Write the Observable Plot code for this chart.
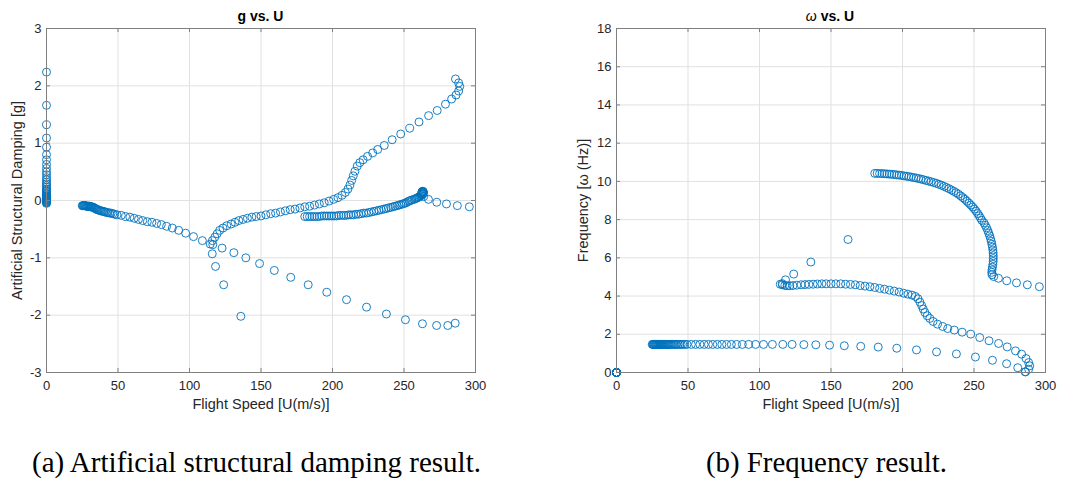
<!DOCTYPE html>
<html><head><meta charset="utf-8">
<script src="https://cdn.jsdelivr.net/npm/d3@7"></script>
<script src="https://cdn.jsdelivr.net/npm/@observablehq/plot@0.6"></script>
<style>
html,body{margin:0;padding:0;background:#fff}
body{width:1066px;height:481px;position:relative;overflow:hidden;font-family:"Liberation Sans",Arial,Helvetica,sans-serif}
.panel{position:absolute;top:0}
.title{position:absolute;top:9px;width:200px;text-align:center;font-size:14px;line-height:14px;font-weight:bold;color:#000}
#caps{position:absolute;left:0;top:0}
#caps text{font-family:"Liberation Serif","Times New Roman",Times,serif;font-size:30px;fill:#000}
</style></head><body>
<div class="panel" id="p1" style="left:0"></div>
<div class="panel" id="p2" style="left:533px"></div>
<div class="title" style="left:160.5px">g vs. U</div>
<div class="title" style="left:730px"><span style="font-weight:normal;font-style:italic">ω</span> vs. U</div>
<svg id="caps" width="1066" height="481" style="pointer-events:none">
  <text x="32" y="472" textLength="449" lengthAdjust="spacingAndGlyphs">(a) Artificial structural damping result.</text>
  <text x="706" y="472" textLength="241" lengthAdjust="spacingAndGlyphs">(b) Frequency result.</text>
</svg>
<script>
// ---- tick values ----
const xTicks = [0, 50, 100, 150, 200, 250, 300];
const gTicks = [-3, -2, -1, 0, 1, 2, 3];
const wTicks = [0, 2, 4, 6, 8, 10, 12, 14, 16, 18];

// ---- mode at U = 0 ----
const mode0U = [0,0,0,0,0,0,0,0,0,0, 0,0,0,0,0,0,0,0,0,0, 0,0,0,0,0,0,0,0,0,0, 0,0,0,0,0,0,0];
const mode0G = [2.24,1.66,1.32,1.09,0.93,0.80,0.71,0.63,0.56,0.50, 0.45,0.40,0.36,0.32,0.29,0.26,0.23,0.20,0.18,0.16, 0.14,0.12,0.10,0.08,0.07,0.06,0.05,0.04,0.03,0.02, 0.01,0.00,-0.01,-0.02,-0.03,-0.04,-0.05];
const mode0W = [0,0,0,0,0,0,0,0,0,0, 0,0,0,0,0,0,0,0,0,0, 0,0,0,0,0,0,0,0,0,0, 0,0,0,0,0,0,0];

// ---- mode 1 (~1.5 Hz) ----
const mode1U = [25.0,25.4,25.8,26.2,26.6,27.0,27.4,27.8,28.2,28.6, 29.0,29.4,29.8,30.3,30.8,31.3,31.8,32.3,32.9,33.5, 34.1,34.7,35.4,36.1,36.8,37.6,38.4,39.2,40.1,41.0, 42.0,43.0,44.1,45.2,46.4,47.7,49.3,52.3,55.3,58.3, 61.3,64.3,67.3,70.5,73.7,77.0,80.3,84.0,88.0,92.4, 97.3,102.8,109.0,116.3,122.8,131.0,139.4,149.0,159.3,170.8, 183.0,196.0,209.8,223.8,237.7,251.0,262.9,272.8,280.6,285.8];
const mode1G = [-0.09,-0.09,-0.09,-0.09,-0.09,-0.09,-0.09,-0.10,-0.10,-0.10, -0.10,-0.10,-0.10,-0.10,-0.11,-0.11,-0.11,-0.12,-0.12,-0.13, -0.14,-0.15,-0.16,-0.16,-0.17,-0.18,-0.18,-0.19,-0.19,-0.20, -0.21,-0.21,-0.22,-0.22,-0.23,-0.24,-0.25,-0.26,-0.28,-0.29, -0.31,-0.33,-0.35,-0.37,-0.38,-0.40,-0.42,-0.45,-0.48,-0.52, -0.57,-0.63,-0.70,-0.77,-0.83,-0.91,-1.00,-1.10,-1.22,-1.34, -1.47,-1.60,-1.73,-1.86,-1.98,-2.08,-2.15,-2.18,-2.18,-2.14];
const mode1W = [1.47,1.47,1.47,1.47,1.47,1.47,1.47,1.47,1.47,1.47, 1.47,1.47,1.47,1.47,1.47,1.47,1.47,1.47,1.47,1.47, 1.47,1.47,1.47,1.47,1.47,1.47,1.47,1.47,1.47,1.47, 1.47,1.47,1.47,1.47,1.47,1.47,1.47,1.47,1.47,1.47, 1.47,1.47,1.47,1.47,1.47,1.47,1.47,1.47,1.47,1.47, 1.47,1.47,1.47,1.47,1.47,1.46,1.45,1.43,1.40,1.37, 1.33,1.27,1.18,1.08,0.97,0.81,0.64,0.46,0.25,0.04];

// ---- mode 2 (~4.6 Hz) ----
const mode2U = [114.5,116.0,117.7,119.3,121.1,123.4,126.1,129.1,131.8,134.5, 137.5,140.5,143.6,146.6,150.0,153.4,156.8,160.2,163.6,167.0, 170.4,173.8,177.2,180.6,184.0,187.4,190.8,194.2,197.6,200.8, 203.8,206.6,209.0,210.8,212.2,213.4,214.5,215.7,217.3,219.1, 221.4,224.5,228.1,231.6,236.2,241.7,247.7,254.0,260.5,267.2, 273.2,279.0,283.3,286.4,288.2,289.0,288.2,286.0];
const mode2G = [-0.76,-0.70,-0.64,-0.58,-0.52,-0.48,-0.44,-0.41,-0.38,-0.35, -0.33,-0.31,-0.29,-0.28,-0.27,-0.25,-0.23,-0.22,-0.20,-0.18, -0.16,-0.15,-0.13,-0.11,-0.10,-0.08,-0.06,-0.04,-0.01,0.02, 0.05,0.09,0.14,0.20,0.27,0.35,0.43,0.51,0.60,0.66, 0.71,0.77,0.83,0.89,0.96,1.06,1.16,1.26,1.37,1.48, 1.57,1.68,1.77,1.84,1.91,1.99,2.05,2.12];
const mode2W = [4.62,4.59,4.56,4.54,4.54,4.55,4.57,4.59,4.60,4.61, 4.62,4.63,4.64,4.64,4.64,4.64,4.64,4.62,4.61,4.59, 4.55,4.52,4.49,4.45,4.40,4.36,4.31,4.26,4.21,4.15, 4.10,4.05,3.98,3.86,3.68,3.50,3.32,3.14,2.97,2.83, 2.67,2.53,2.41,2.30,2.22,2.11,2.01,1.83,1.66,1.52, 1.34,1.13,0.96,0.73,0.52,0.35,0.17,0.03];

// ---- mode 3 (short, strongly damped branch) ----
const mode3U = [115.9,118.2,123.9,135.9,161.9];
const mode3G = [-0.93,-1.15,-1.47,-2.02,-3.50];
const mode3W = [4.65,4.85,5.15,5.78,6.96];

// ---- mode 4 (~10.4 Hz) ----
const mode4U = [180.6,182.3,184.0,185.7,187.4,189.1,190.8,192.5,194.2,195.9, 197.6,199.3,201.0,202.7,204.4,206.1,207.8,209.5,211.2,212.9, 214.6,216.4,218.2,220.0,221.8,223.6,225.4,227.2,229.0,230.8, 232.5,234.2,235.9,237.5,239.1,240.7,242.2,243.7,245.1,246.5, 247.8,249.1,250.3,251.5,252.6,253.6,254.6,255.5,257.0,257.9, 258.8,259.6,260.3,261.0,261.6,262.1,262.5,262.9,263.2,263.4, 263.5,263.5,263.4,263.2,262.9,262.6,262.4,262.6,263.8,267.1, 272.9,279.7,287.3,295.7];
const mode4G = [-0.28,-0.28,-0.28,-0.28,-0.28,-0.28,-0.28,-0.27,-0.27,-0.27, -0.27,-0.27,-0.27,-0.27,-0.26,-0.26,-0.26,-0.26,-0.25,-0.25, -0.25,-0.24,-0.24,-0.23,-0.22,-0.22,-0.21,-0.20,-0.19,-0.18, -0.17,-0.16,-0.15,-0.14,-0.13,-0.12,-0.11,-0.10,-0.09,-0.08, -0.07,-0.06,-0.05,-0.04,-0.02,-0.01,0.00,0.01,0.02,0.03, 0.04,0.05,0.06,0.07,0.08,0.09,0.10,0.11,0.12,0.13, 0.14,0.15,0.15,0.16,0.16,0.15,0.14,0.12,0.07,0.02, -0.03,-0.06,-0.09,-0.11];
const mode4W = [10.42,10.42,10.41,10.41,10.40,10.39,10.38,10.37,10.36,10.34, 10.33,10.31,10.29,10.27,10.25,10.23,10.20,10.18,10.15,10.12, 10.09,10.05,10.02,9.98,9.94,9.90,9.85,9.80,9.74,9.68, 9.62,9.55,9.48,9.41,9.33,9.24,9.15,9.06,8.96,8.86, 8.76,8.66,8.55,8.44,8.32,8.20,8.08,7.96,7.83,7.70, 7.57,7.43,7.29,7.15,7.00,6.86,6.71,6.56,6.41,6.26, 6.11,5.96,5.81,5.66,5.51,5.37,5.24,5.12,5.02,4.93, 4.80,4.69,4.59,4.49];

function zip(U, G, W) { return U.map((u, i) => ({U: u, g: G[i], w: W[i]})); }
const rows = [
  ...zip(mode0U, mode0G, mode0W),
  ...zip(mode1U, mode1G, mode1W),
  ...zip(mode2U, mode2G, mode2W),
  ...zip(mode3U, mode3G, mode3W),
  ...zip(mode4U, mode4G, mode4W)
];

const FONT = '"Liberation Sans", Arial, Helvetica, sans-serif';
const AX = "#808080", GRID = "#e1e1e1", TXT = "#262626", BLUE = "#0072BD";

function panel(yKey, yDomain, yTicks, ml, mr, yLabel, yLabelDx) {
  const W = 533, H = 420, mt = 28, mb = 48;
  const fh = H - mt - mb, fw = W - ml - mr;
  const visible = rows.filter(d => d[yKey] >= yDomain[0] && d[yKey] <= yDomain[1]);
  return Plot.plot({
    width: W, height: H, marginTop: mt, marginBottom: mb, marginLeft: ml, marginRight: mr,
    style: {fontFamily: FONT, fontSize: "13px", color: TXT, background: "#fff", overflow: "visible"},
    x: {domain: [0, 300]},
    y: {domain: yDomain},
    marks: [
      Plot.gridX(xTicks, {stroke: GRID, strokeOpacity: 1, strokeWidth: 1}),
      Plot.gridY(yTicks, {stroke: GRID, strokeOpacity: 1, strokeWidth: 1}),
      Plot.dot(visible, {x: "U", y: yKey, r: 4, stroke: BLUE, strokeWidth: 0.9, fill: "none"}),
      Plot.frame({stroke: AX, strokeWidth: 1}),
      Plot.ruleX(xTicks, {stroke: AX, insetTop: fh - 4}),
      Plot.ruleX(xTicks, {stroke: AX, insetBottom: fh - 4}),
      Plot.ruleY(yTicks, {stroke: AX, insetRight: fw - 4}),
      Plot.ruleY(yTicks, {stroke: AX, insetLeft: fw - 4}),
      Plot.axisX(xTicks, {tickSize: 0, tickPadding: 8, tickFormat: d => String(d), fontSize: 13, fill: TXT, label: null}),
      Plot.axisY(yTicks, {tickSize: 0, tickPadding: 5, tickFormat: d => String(d), fontSize: 13, fill: TXT, label: null}),
      Plot.text(["Flight Speed [U(m/s)]"], {text: d => d, frameAnchor: "bottom", dy: 36, fontSize: 14.5, fill: TXT}),
      Plot.text([yLabel], {text: d => d, frameAnchor: "left", textAnchor: "middle", rotate: -90, dx: yLabelDx, fontSize: 14.5, fill: TXT})
    ]
  });
}

document.getElementById("p1").appendChild(panel("g", [-3, 3], gTicks, 46, 58, "Artificial Structural Damping [g]", -29));
document.getElementById("p2").appendChild(panel("w", [0, 18], wTicks, 83, 21, "Frequency [ω (Hz)]", -33));
</script>
</body></html>
